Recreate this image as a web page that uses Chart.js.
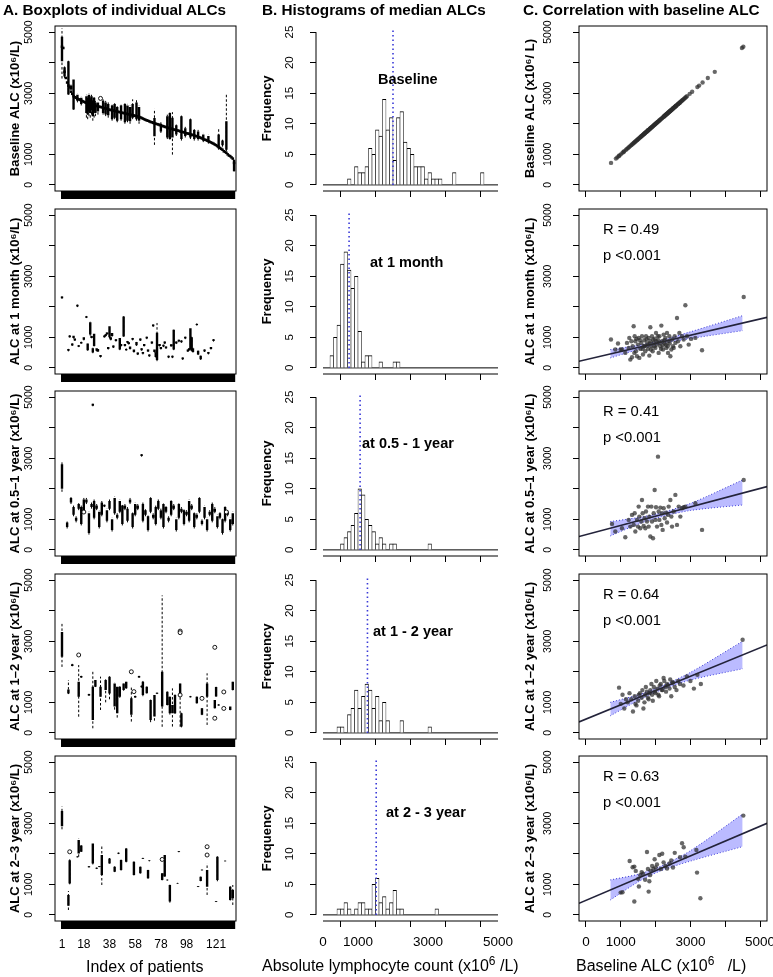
<!DOCTYPE html>
<html>
<head>
<meta charset="utf-8">
<script src="https://cdn.jsdelivr.net/npm/chart.js@4.4.1/dist/chart.umd.min.js"></script>
<style>
  body { margin: 0; background: #fff; }
  #fig { position: relative; width: 773px; height: 977px; overflow: hidden; background: #fff;
         font-family: "Liberation Sans", Arial, Helvetica, sans-serif; color: #000; }
  #fig canvas { position: absolute; }
  .lbl { position: absolute; white-space: nowrap; line-height: 1; }
  .head { font-weight: bold; font-size: 15.3px; }
  .note { font-weight: bold; font-size: 14.5px; transform: translateY(-50%); }
  .stat { font-size: 14.8px; transform: translateY(-50%); }
  .xt { font-size: 16px; transform: translateY(-50%); }
  .xt sup { font-size: 12px; line-height: 0; }
</style>
</head>
<body>
<div id="fig">
  <div class="lbl head" style="left:3px;top:2px">A. Boxplots of individual ALCs</div>
  <div class="lbl head" style="left:262px;top:2px">B. Histograms of median ALCs</div>
  <div class="lbl head" style="left:523px;top:2px">C. Correlation with baseline ALC</div>
  <div class="lbl xt" style="left:86px;top:967px">Index of patients</div>
  <div class="lbl xt" style="left:262px;top:966px">Absolute lymphocyte count (x10<sup>6</sup> /L)</div>
  <div class="lbl xt" style="left:576px;top:966px">Baseline ALC (x10<sup>6</sup>&nbsp;&nbsp; /L)</div>
</div>
<script>
// ---------- data ----------
const nPatients = 135;
const patientLabels = [1, 18, 38, 58, 78, 98, 121];
const valueTicks = [0, 1000, 2000, 3000, 4000, 5000];
const valueLabels = [0, 1000, 3000, 5000];
const freqTicks = [0, 5, 10, 15, 20, 25];
const binWidth = 100;
const histRange = [0, 5000];

const rowTitles = ['Baseline ALC (x10\u2076/L)', 'ALC at 1 month (x10\u2076/L)', 'ALC at 0.5\u20131 year (x10\u2076/L)',
                   'ALC at 1\u20132 year (x10\u2076/L)', 'ALC at 2\u20133 year (x10\u2076/L)'];
const corrTitles = ['Baseline ALC (x10\u2076/ L)', 'ALC at 1 month (x10\u2076/L)', 'ALC at 0.5\u20131 year (x10\u2076/L)',
                    'ALC at 1\u20132 year (x10\u2076/L)', 'ALC at 2\u20133 year (x10\u2076/L)'];
const histNotes = ['Baseline', 'at 1 month', 'at 0.5 - 1 year', 'at 1 - 2 year', 'at 2 - 3 year'];

// baseline medians per patient, sorted high to low
const baseMedian = [4520, 4480, 3700, 3500, 3350, 3250, 3200, 3050, 2980, 2900,
  2870, 2850, 2820, 2800, 2780, 2760, 2740, 2720, 2700, 2690,
  2680, 2660, 2650, 2640, 2620, 2600, 2590, 2580, 2570, 2560,
  2550, 2540, 2520, 2510, 2500, 2490, 2470, 2460, 2450, 2440,
  2430, 2420, 2410, 2400, 2390, 2380, 2370, 2360, 2350, 2340,
  2330, 2320, 2310, 2300, 2290, 2280, 2270, 2260, 2250, 2240,
  2230, 2210, 2190, 2170, 2150, 2130, 2110, 2100, 2080, 2060,
  2050, 2030, 2020, 2000, 1990, 1980, 1960, 1950, 1930, 1920,
  1900, 1890, 1880, 1860, 1850, 1840, 1830, 1810, 1800, 1790,
  1780, 1770, 1750, 1740, 1730, 1720, 1700, 1690, 1680, 1670,
  1660, 1640, 1630, 1620, 1600, 1590, 1570, 1560, 1540, 1520,
  1500, 1480, 1470, 1450, 1430, 1410, 1390, 1370, 1350, 1320,
  1300, 1270, 1240, 1210, 1180, 1150, 1100, 1080, 1050, 1000,
  960, 940, 900, 860, 720];

// boxplots: [patient, lower whisker, q1, q3, upper whisker]
const baseBoxes = [[1, 3480, 4050, 4850, 5120], [3, 3500, 3550, 3850, 3900], [6, 2950, 2960, 4050, 4080],
  [8, 3100, 3120, 3250, 3280], [10, 2460, 2470, 3450, 3460], [13, 2700, 2750, 2950, 3000],
  [16, 2600, 2650, 2850, 2900], [20, 2200, 2350, 2900, 2950], [21, 2150, 2300, 2850, 2900],
  [22, 2250, 2400, 2950, 3000], [23, 2200, 2350, 2800, 2850], [24, 2300, 2450, 2900, 2950],
  [25, 2100, 2250, 2750, 2800], [26, 2200, 2400, 2850, 2900], [27, 2250, 2350, 2700, 2750],
  [29, 2300, 2400, 2700, 2750], [33, 2300, 2350, 2750, 2800], [35, 2250, 2300, 2700, 2750],
  [37, 2200, 2280, 2650, 2700], [40, 2100, 2150, 2600, 2650], [42, 2150, 2200, 2650, 2700],
  [44, 2050, 2100, 2550, 2600], [47, 2100, 2150, 2600, 2650], [50, 2000, 2050, 2650, 2700],
  [52, 2050, 2100, 2600, 2650], [54, 2000, 2080, 2550, 2600], [56, 2150, 2200, 2650, 2800],
  [59, 2100, 2150, 2700, 2800], [61, 2000, 2100, 2550, 2600], [73, 1310, 1590, 2190, 2490],
  [78, 1700, 1750, 2000, 2050], [83, 1500, 1550, 2250, 2300], [85, 1480, 1500, 2350, 2380],
  [87, 990, 1550, 2200, 2380], [90, 1600, 1650, 1950, 2000], [94, 1450, 1500, 2250, 2300],
  [97, 1550, 1600, 1850, 1900], [101, 1500, 1550, 2150, 2200], [104, 1450, 1500, 1800, 1850],
  [107, 1450, 1500, 1750, 1800], [111, 1400, 1450, 1650, 1700], [115, 1350, 1400, 1600, 1650],
  [123, 1150, 1200, 1650, 1860], [126, 1250, 1300, 1450, 1500], [129, 1100, 1150, 2080, 3010],
  [135, 440, 450, 820, 850]];
const baseOutliers = [[31, 2830]];

const m1Boxes = [[1, 2260, 2280, 2340, 2360], [6, 540, 560, 620, 640], [7, 990, 1000, 1060, 1070],
  [9, 720, 730, 800, 810], [10, 960, 980, 1050, 1060], [11, 880, 900, 960, 980], [13, 1990, 2010, 2070, 2090],
  [14, 680, 690, 740, 750], [16, 790, 800, 850, 860], [18, 900, 920, 1000, 1020], [20, 1630, 1640, 1690, 1700],
  [21, 560, 580, 800, 830], [23, 1050, 1090, 1490, 1510], [24, 970, 980, 1040, 1050], [25, 480, 500, 640, 660],
  [26, 700, 720, 1120, 1140], [28, 540, 560, 640, 660], [29, 520, 540, 620, 640], [31, 340, 360, 420, 440],
  [34, 990, 1000, 1060, 1070], [35, 1020, 1040, 1100, 1110], [36, 1080, 1100, 1160, 1180], [37, 600, 620, 680, 700],
  [38, 960, 1000, 1360, 1380], [39, 900, 920, 1000, 1020], [40, 1020, 1040, 1140, 1160], [41, 650, 670, 730, 750],
  [43, 860, 880, 940, 960], [46, 580, 600, 980, 1000], [47, 700, 720, 780, 800], [49, 1020, 1030, 1680, 1700],
  [50, 700, 720, 780, 800], [51, 560, 580, 620, 640], [52, 800, 820, 880, 900], [53, 760, 780, 840, 860],
  [54, 600, 620, 700, 720], [56, 900, 920, 980, 1000], [57, 500, 520, 600, 620], [59, 720, 740, 850, 870],
  [60, 420, 440, 500, 520], [62, 880, 900, 960, 980], [63, 560, 580, 640, 660], [64, 440, 460, 520, 540],
  [65, 700, 720, 780, 800], [67, 940, 960, 1020, 1040], [68, 520, 540, 600, 620], [69, 360, 380, 440, 460],
  [71, 780, 800, 860, 880], [72, 1340, 1360, 1420, 1440], [73, 500, 520, 600, 620], [74, 340, 360, 500, 520],
  [75, 220, 260, 1150, 1470], [77, 700, 720, 780, 800], [78, 600, 620, 680, 700], [80, 680, 700, 760, 780],
  [81, 780, 800, 860, 880], [82, 620, 640, 700, 720], [84, 320, 340, 400, 420], [86, 690, 710, 770, 790],
  [87, 320, 340, 400, 420], [88, 580, 600, 1250, 1270], [90, 780, 800, 860, 880], [92, 840, 860, 920, 940],
  [94, 820, 840, 900, 920], [95, 260, 280, 340, 360], [97, 940, 960, 1020, 1040], [99, 520, 540, 600, 620],
  [100, 560, 580, 640, 660], [101, 600, 620, 1300, 1320], [102, 540, 560, 1000, 1020], [103, 500, 520, 640, 660],
  [106, 1380, 1400, 1440, 1460], [107, 420, 440, 560, 580], [109, 260, 280, 400, 420], [112, 520, 540, 600, 620],
  [115, 440, 460, 520, 540], [117, 600, 620, 680, 700], [119, 860, 880, 940, 960]];
const m1Outliers = [];

const y05Boxes = [[1, 1900, 2000, 2800, 2900], [5, 700, 750, 900, 950], [8, 1500, 1550, 1700, 1750],
  [10, 1100, 1150, 1400, 1450], [12, 900, 950, 1050, 1100], [14, 1300, 1350, 1500, 1550], [16, 800, 850, 1400, 1450],
  [18, 1200, 1250, 1650, 1700], [20, 1500, 1550, 1650, 1700], [22, 500, 550, 1200, 1250], [24, 1350, 1400, 1500, 1550],
  [25, 4700, 4720, 4780, 4800], [26, 1000, 1050, 1600, 1650], [28, 1300, 1350, 1450, 1500], [30, 700, 750, 1250, 1300],
  [32, 1100, 1150, 1550, 1600], [34, 1400, 1420, 1480, 1500], [36, 900, 950, 1300, 1350], [38, 1300, 1350, 1600, 1650],
  [40, 600, 650, 1000, 1050], [42, 1150, 1200, 1700, 1750], [44, 1000, 1050, 1150, 1200], [46, 1200, 1250, 1600, 1650],
  [48, 800, 850, 1450, 1500], [50, 1300, 1350, 1450, 1500], [52, 900, 950, 1350, 1400], [54, 1500, 1550, 1650, 1700],
  [56, 700, 750, 1200, 1250], [58, 1100, 1150, 1500, 1550], [60, 1300, 1350, 1450, 1500], [63, 3050, 3070, 3130, 3150],
  [64, 900, 950, 1500, 1550], [66, 1100, 1150, 1300, 1350], [68, 600, 650, 1100, 1150], [70, 1200, 1250, 1700, 1750],
  [72, 1000, 1050, 1150, 1200], [74, 800, 850, 1400, 1450], [76, 1300, 1350, 1600, 1650], [78, 1000, 1050, 1300, 1350],
  [80, 700, 750, 1500, 1550], [82, 1200, 1250, 1400, 1450], [84, 900, 950, 1050, 1100], [86, 1100, 1150, 1600, 1650],
  [88, 1300, 1350, 1450, 1500], [90, 600, 650, 1000, 1050], [92, 1000, 1050, 1500, 1550], [94, 1200, 1250, 1350, 1400],
  [96, 800, 850, 1300, 1350], [98, 1100, 1150, 1250, 1300], [100, 900, 950, 1600, 1650], [102, 1300, 1350, 1450, 1500],
  [104, 700, 750, 1200, 1250], [106, 1000, 1050, 1150, 1200], [108, 1200, 1250, 1700, 1750], [110, 800, 850, 950, 1000],
  [112, 1000, 1050, 1400, 1450], [114, 600, 650, 1000, 1050], [116, 1100, 1150, 1250, 1300], [118, 900, 950, 1500, 1550],
  [120, 1200, 1250, 1350, 1400], [122, 700, 750, 1100, 1150], [124, 1000, 1050, 1200, 1250], [126, 500, 550, 1000, 1050],
  [128, 900, 950, 1400, 1450], [130, 1100, 1150, 1250, 1300], [132, 600, 650, 1000, 1050], [134, 800, 850, 1200, 1250]];
const y05Outliers = [[18, 1240], [129, 1240]];

const y12Boxes = [[1, 2160, 2490, 3300, 3600], [6, 1270, 1290, 1420, 1730], [9, 2180, 2190, 2250, 2260],
  [14, 530, 1185, 1670, 2220], [16, 1800, 1810, 1860, 1870], [22, 1210, 1220, 1270, 1280], [25, 150, 420, 1510, 2050],
  [27, 1500, 1510, 1730, 1740], [31, 750, 1185, 1510, 1840], [35, 1000, 1400, 1730, 1760], [38, 1100, 1290, 1840, 1860],
  [42, 760, 860, 1620, 1650], [44, 500, 640, 1510, 1530], [46, 1150, 1180, 1510, 1560], [49, 1380, 1400, 1620, 1640],
  [51, 1440, 1460, 1670, 1690], [55, 370, 590, 1130, 1510], [58, 1150, 1160, 1210, 1220], [61, 1800, 1810, 1860, 1870],
  [63, 1480, 1490, 1540, 1550], [64, 1200, 1239, 1674, 1700], [67, 1290, 1300, 1510, 1530], [70, 350, 424, 1076, 1100],
  [73, 400, 533, 1240, 1260], [75, 1270, 1280, 1310, 1320], [79, 200, 860, 2000, 4500], [83, 900, 913, 1348, 1360],
  [85, 600, 641, 1185, 1200], [87, 207, 641, 913, 1457], [89, 620, 641, 1240, 1260], [93, 200, 1185, 1620, 1650],
  [94, 180, 207, 641, 660], [101, 1160, 1170, 1200, 1210], [106, 960, 970, 1185, 1200], [110, 580, 590, 805, 820],
  [114, 260, 1185, 1620, 1950], [120, 800, 805, 1076, 1090], [121, 1185, 1190, 1500, 1510], [123, 890, 900, 930, 940],
  [132, 740, 750, 860, 870], [134, 1390, 1402, 1674, 1690]];
const y12Outliers = [[14, 2550], [55, 2000], [57, 1350], [93, 3330], [93, 3280], [93, 1240], [110, 1130],
  [120, 480], [120, 2800], [127, 1340], [127, 800]];

const y23Boxes = [[1, 2800, 2900, 3400, 3550], [6, 160, 300, 650, 780], [7, 1000, 1030, 1790, 1850],
  [13, 1880, 1890, 1910, 1920], [14, 1900, 2010, 2450, 2500], [16, 2060, 2070, 2270, 2280], [22, 1550, 1560, 1590, 1600],
  [25, 1650, 1685, 2337, 2350], [28, 1500, 1510, 1540, 1550], [30, 1560, 1570, 1590, 1600], [32, 978, 1304, 1957, 2283],
  [38, 1680, 1685, 1848, 1860], [42, 1400, 1413, 1576, 1590], [45, 1990, 2000, 2030, 2040], [47, 1450, 1467, 1793, 1810],
  [51, 1720, 1739, 2174, 2190], [57, 1290, 1304, 1739, 1750], [62, 1350, 1359, 1576, 1590], [64, 1830, 1840, 1860, 1870],
  [68, 1180, 1196, 1467, 1480], [69, 1750, 1760, 1780, 1790], [79, 1130, 1141, 1359, 1370], [81, 1250, 1260, 1960, 1980],
  [83, 1120, 1130, 1150, 1160], [85, 400, 435, 978, 1000], [91, 1020, 1025, 1045, 1050], [92, 2050, 2060, 2080, 2090],
  [107, 910, 915, 935, 940], [109, 1100, 1110, 1250, 1260], [110, 1450, 1460, 1480, 1490], [114, 652, 924, 1467, 1685],
  [121, 420, 425, 445, 450], [122, 1100, 1141, 1902, 1920], [128, 1750, 1755, 1770, 1780], [132, 470, 489, 924, 940],
  [134, 326, 543, 815, 978]];
const y23Outliers = [[7, 2065], [79, 1815], [114, 2230], [114, 1960]];

// histogram counts, bins of 100 from 0 to 5000
const histBaseline = [0,0,0,0,0,0,0,1,0,3, 2,2,3,6,5,9,8,14,9,11, 4,11,12,7,6,5,3,3,3,1, 2,1,1,1,0,0,0,2,0,0, 0,0,0,0,0,2,0,0,0,0];
const histM1 =       [0,0,2,5,7,17,19,16,13,15, 6,1,2,2,0,0,1,0,0,0, 1,1,0,0,0,0,0,0,0,0, 0,0,0,0,0,0,0,0,0,0, 0,0,0,0,0,0,0,0,0,0];
const histY05 =      [0,0,0,0,0,1,2,3,4,6, 10,9,5,4,3,1,2,1,0,1, 1,0,0,0,0,0,0,0,0,0, 1,0,0,0,0,0,0,0,0,0, 0,0,0,0,0,0,0,0,0,0];
const histY12 =      [0,0,0,0,1,1,0,3,4,7, 4,6,8,7,4,6,2,5,2,0, 0,0,2,0,0,0,0,0,0,0, 1,0,0,0,0,0,0,0,0,0, 0,0,0,0,0,0,0,0,0,0];
const histY23 =      [0,0,0,0,1,1,2,1,0,1, 2,2,1,1,5,6,2,3,1,2, 4,1,1,0,0,0,0,0,0,0, 0,0,1,0,0,0,0,0,0,0, 0,0,0,0,0,0,0,0,0,0];
const histMedians = [2000, 745, 1060, 1270, 1520];

// correlation: [baseline ALC, ALC at time point]
const corrM1 = [[718, 927], [843, 600], [920, 796], [996, 600], [1035, 600], [1130, 490], [1178, 818], [1226, 654],
  [1245, 981], [1274, 272], [1303, 872], [1322, 349], [1341, 709], [1370, 1363], [1389, 490], [1399, 1036],
  [1418, 872], [1437, 545], [1447, 948], [1466, 382], [1494, 763], [1514, 981], [1533, 327], [1552, 905],
  [1561, 621], [1590, 818], [1609, 1036], [1628, 621], [1638, 436], [1657, 709], [1676, 905], [1686, 709],
  [1705, 545], [1724, 1036], [1743, 927], [1753, 796], [1772, 730], [1782, 621], [1801, 981], [1820, 403],
  [1830, 796], [1849, 1330], [1849, 872], [1868, 600], [1878, 709], [1897, 1036], [1916, 545], [1926, 927],
  [1945, 818], [1964, 709], [1973, 948], [1993, 654], [2012, 1145], [2021, 872], [2041, 763], [2060, 1036],
  [2069, 905], [2088, 490], [2108, 1036], [2117, 818], [2137, 709], [2156, 621], [2165, 1384], [2184, 872],
  [2203, 741], [2213, 600], [2232, 1090], [2251, 905], [2261, 796], [2280, 981], [2299, 763], [2309, 654],
  [2328, 1145], [2347, 709], [2357, 490], [2376, 872], [2395, 1036], [2405, 796], [2424, 382], [2453, 600],
  [2472, 927], [2501, 709], [2520, 654], [2549, 1036], [2568, 818], [2615, 1635], [2644, 872], [2683, 1145],
  [2711, 709], [2759, 1036], [2807, 927], [2855, 2049], [2903, 1036], [2951, 763], [3018, 948], [3142, 981],
  [3334, 578], [4531, 2322]];
const corrY05 = [[747, 850], [843, 600], [1035, 709], [1130, 414], [1226, 981], [1274, 763], [1322, 1145],
  [1370, 818], [1399, 1199], [1418, 600], [1466, 981], [1494, 763], [1514, 1417], [1533, 1090], [1561, 709],
  [1590, 927], [1609, 1635], [1628, 1199], [1657, 785], [1686, 1036], [1705, 709], [1724, 1254], [1753, 927],
  [1782, 1417], [1801, 763], [1820, 1090], [1849, 436], [1878, 1417], [1897, 927], [1926, 381], [1945, 1199],
  [1973, 1962], [1993, 981], [2012, 1395], [2041, 763], [2069, 3052], [2088, 1254], [2108, 981], [2137, 1384],
  [2165, 818], [2184, 1199], [2203, 654], [2232, 1363], [2261, 1036], [2299, 1221], [2328, 894], [2357, 1145],
  [2376, 1417], [2424, 1635], [2453, 1090], [2472, 763], [2520, 1254], [2568, 1799], [2615, 818], [2664, 1417],
  [2711, 1090], [2759, 1363], [2807, 1395], [2855, 1417], [3142, 1526], [3334, 654], [4531, 2289]];
const corrY12 = [[950, 1480], [1000, 950], [1050, 1250], [1100, 800], [1150, 1100], [1200, 1000], [1250, 1300],
  [1300, 1100], [1350, 700], [1400, 1200], [1420, 950], [1450, 900], [1500, 1050], [1520, 1250], [1550, 1300],
  [1600, 1150], [1620, 1400], [1650, 800], [1680, 1000], [1700, 1250], [1720, 1500], [1750, 1350], [1780, 1150],
  [1800, 1100], [1820, 1300], [1850, 1400], [1880, 1600], [1900, 1250], [1920, 1050], [1950, 1500], [1980, 1350],
  [2000, 1300], [2020, 1700], [2050, 1450], [2080, 1250], [2100, 1200], [2120, 1550], [2150, 1600], [2180, 1400],
  [2200, 1400], [2230, 1800], [2250, 1700], [2280, 1500], [2300, 1350], [2330, 1600], [2350, 1550], [2400, 1450],
  [2420, 1750], [2450, 1200], [2480, 1650], [2500, 1650], [2550, 1500], [2600, 1400], [2650, 1700], [2700, 1600],
  [2800, 1550], [2900, 1850], [3000, 1700], [3100, 1450], [3200, 1900], [3300, 1600], [4500, 3050]];
const corrY23 = [[996, 730], [1050, 740], [1255, 1766], [1340, 1560], [1389, 436], [1389, 1580], [1430, 1440],
  [1500, 1180], [1520, 930], [1560, 1300], [1600, 1400], [1640, 1350], [1700, 1150], [1753, 2060], [1780, 1500],
  [1801, 763], [1820, 1100], [1840, 1300], [1860, 1450], [1900, 1600], [1940, 1500], [1973, 1820], [2000, 1550],
  [2040, 1650], [2108, 1962], [2150, 1500], [2190, 2000], [2230, 1720], [2280, 1600], [2330, 1520], [2400, 1680],
  [2450, 1780], [2500, 1550], [2550, 2030], [2700, 1890], [2760, 2344], [2807, 2213], [2855, 1908], [3171, 2126],
  [3190, 1384], [3286, 545], [4520, 3250]];

// fitted lines [x, y] at the plot edges, and confidence band
const fitM1 = [[-200, 216], [5200, 1655]];
const fitY05 = [[-200, 436], [5200, 2071]];
const fitY12 = [[-200, 360], [5200, 2880]];
const fitY23 = [[-200, 381], [5200, 2998]];
const bandX = [700, 1500, 2100, 3000, 4500];
const bandM1Hi = [598, 740, 880, 1180, 1710];
const bandM1Lo = [327, 600, 780, 960, 1220];
const bandY05Hi = [926, 1060, 1200, 1520, 2289];
const bandY05Lo = [458, 840, 1065, 1290, 1471];
const bandY12Hi = [1000, 1250, 1500, 1980, 3000];
const bandY12Lo = [560, 1060, 1370, 1730, 2100];
const bandY23Hi = [1145, 1330, 1570, 2100, 3300];
const bandY23Lo = [490, 1080, 1420, 1760, 2235];
const corrStats = [null, ['R = 0.49', 'p <0.001'], ['R = 0.41', 'p <0.001'], ['R = 0.64', 'p <0.001'], ['R = 0.63', 'p <0.001']];

// ---------- layout ----------
const fig = document.getElementById('fig');
const rowTop = [26, 209, 391, 574, 756];
const regionH = 165;
const colA = { left: 55, width: 181, L: 55 };
const colB = { left: 316, width: 189, L: 56 };
const colC = { left: 579, width: 188, L: 60 };
const PAD = { top: 24, right: 24, bottom: 16 };
const FONT = '"Liberation Sans", Arial, Helvetica, sans-serif';
Chart.defaults.font.family = FONT;
Chart.defaults.color = '#000';

const rFrame = {
  id: 'rFrame',
  afterDraw(chart, args, opts) {
    const { ctx, chartArea: a, scales } = chart;
    ctx.save();
    ctx.strokeStyle = '#000';
    ctx.lineWidth = 1;
    if (opts.box) ctx.strokeRect(a.left, a.top, a.right - a.left, a.bottom - a.top);
    if (opts.axes) {
      const xt = scales.x.ticks, yt = scales.y.ticks;
      ctx.beginPath();
      ctx.moveTo(a.left, scales.y.getPixelForValue(yt[0].value));
      ctx.lineTo(a.left, scales.y.getPixelForValue(yt[yt.length - 1].value));
      ctx.moveTo(scales.x.getPixelForValue(xt[0].value), a.bottom);
      ctx.lineTo(scales.x.getPixelForValue(xt[xt.length - 1].value), a.bottom);
      ctx.stroke();
    }
    ctx.restore();
  }
};

function panel(col, row, B, type, datasets, scales, frame) {
  const c = document.createElement('canvas');
  const w = col.L + col.width + PAD.right;
  const h = PAD.top + regionH + B + PAD.bottom;
  c.width = w; c.height = h;
  c.style.width = w + 'px'; c.style.height = h + 'px';
  c.style.left = (col.left - col.L) + 'px';
  c.style.top = (rowTop[row] - PAD.top) + 'px';
  fig.insertBefore(c, fig.firstChild);
  scales.x.afterFit = s => { s.height = B; };
  scales.y.afterFit = s => { s.width = col.L; };
  new Chart(c, {
    type, data: { datasets },
    options: {
      responsive: false, animation: false, devicePixelRatio: 1, events: [],
      layout: { padding: { top: PAD.top, right: PAD.right, bottom: PAD.bottom, left: 0 } },
      plugins: { legend: { display: false }, tooltip: { enabled: false }, rFrame: frame },
      scales
    },
    plugins: [rFrame]
  });
}

function yValueAxis(title, fontSize, pad, titlePad) {
  return {
    type: 'linear', min: -200, max: 5200,
    afterBuildTicks: s => { s.ticks = valueTicks.map(v => ({ value: v })); },
    border: { display: false },
    grid: { drawOnChartArea: false, tickLength: 6, color: '#000' },
    ticks: { autoSkip: false, minRotation: 90, maxRotation: 90, crossAlign: 'center', padding: pad,
             font: { size: fontSize }, callback: v => valueLabels.includes(v) ? String(v) : '' },
    title: { display: true, text: title, font: { size: 13, weight: 'bold' }, padding: { top: titlePad, bottom: 0 } }
  };
}

function xValueAxis(bottom) {
  return {
    type: 'linear', min: -200, max: 5200, offset: false,
    afterBuildTicks: s => { s.ticks = valueTicks.map(v => ({ value: v })); },
    border: { display: false },
    grid: { drawOnChartArea: false, tickLength: 6, color: '#000' },
    ticks: { autoSkip: false, maxRotation: 0, padding: 7.6, font: { size: 13.5 },
             callback: v => bottom && valueLabels.includes(v) ? String(v) : '' }
  };
}

function segments(list, a, b) {
  const out = [];
  list.forEach(r => { out.push({ x: r[0], y: r[a] }, { x: r[0], y: r[b] }, { x: r[0], y: null }); });
  return out;
}
const pts = list => list.map(r => ({ x: r[0], y: r[1] }));

// ---------- column A: boxplots ----------
const patientIdx = Array.from({ length: nPatients }, (_, i) => i + 1);
const rowBoxes = [baseBoxes, m1Boxes, y05Boxes, y12Boxes, y23Boxes];
const rowOutliers = [baseOutliers, m1Outliers, y05Outliers, y12Outliers, y23Outliers];
rowBoxes.forEach((boxes, r) => {
  const bottom = r === 4;
  const ds = [
    { data: pts(rowOutliers[r]), pointStyle: 'circle', pointRadius: 2, borderColor: '#000', borderWidth: 0.9,
      backgroundColor: '#fff', order: 0 },
    { data: segments(boxes, 2, 3), showLine: true, spanGaps: false, borderColor: '#000', borderWidth: 2.4,
      pointRadius: 0, order: 1 },
    { data: segments(boxes, 1, 4), showLine: true, spanGaps: false, borderColor: '#000', borderWidth: 1,
      borderDash: [2.5, 2], pointRadius: 0, order: 2 }
  ];
  if (r === 0) {
    ds.push({ data: baseMedian.map((v, i) => ({ x: i + 1, y: v })), pointStyle: 'rect', pointRadius: 1.8,
              backgroundColor: '#000', borderWidth: 0, order: 1 });
  }
  panel(colA, r, bottom ? 56 : 10, 'scatter', ds, {
    x: {
      type: 'linear', min: -4.45, max: 136.5,
      afterBuildTicks: s => { s.ticks = patientIdx.map(v => ({ value: v })); },
      border: { display: false },
      grid: { drawOnChartArea: false, tickLength: 8, color: '#000', lineWidth: 2.2 },
      ticks: { autoSkip: false, maxRotation: 0, padding: 8.4, font: { size: 12 },
               callback: v => bottom && patientLabels.includes(v) ? String(v) : '' }
    },
    y: yValueAxis(rowTitles[r], 10.5, 8.3, 8.1)
  }, { box: true });
});

// ---------- column B: histograms ----------
const hists = [histBaseline, histM1, histY05, histY12, histY23];
hists.forEach((counts, r) => {
  const bottom = r === 4;
  const ds = [
    { type: 'line', data: [{ x: histMedians[r], y: 0 }, { x: histMedians[r], y: 25.6 }], borderColor: '#3a3ad8',
      borderWidth: 1.6, borderDash: [1.5, 3], pointRadius: 0, order: 0 },
    { type: 'line', data: [{ x: histRange[0], y: 0 }, { x: histRange[1], y: 0 }], borderColor: '#000',
      borderWidth: 1, pointRadius: 0, order: 2 },
    { type: 'bar', data: counts.map((c, i) => ({ x: histRange[0] + (i + 0.5) * binWidth, y: c })),
      backgroundColor: '#fff', borderColor: '#000', borderWidth: { top: 1, left: 0.6, right: 0.6, bottom: 0 },
      barPercentage: 1, categoryPercentage: 1, order: 1 }
  ];
  panel(colB, r, bottom ? 56 : 10, 'bar', ds, {
    x: xValueAxis(bottom),
    y: {
      type: 'linear', min: -1, max: 26,
      afterBuildTicks: s => { s.ticks = freqTicks.map(v => ({ value: v })); },
      border: { display: false },
      grid: { drawOnChartArea: false, tickLength: 6, color: '#000' },
      ticks: { autoSkip: false, minRotation: 90, maxRotation: 90, crossAlign: 'center', padding: 13.6,
               font: { size: 11.5 } },
      title: { display: true, text: 'Frequency', font: { size: 13, weight: 'bold' }, padding: { top: 0, bottom: 0 } }
    }
  }, { axes: true });
});

// ---------- column C: correlation ----------
const corrs = [null, corrM1, corrY05, corrY12, corrY23];
const fits = [null, fitM1, fitY05, fitY12, fitY23];
const bandsHi = [null, bandM1Hi, bandY05Hi, bandY12Hi, bandY23Hi];
const bandsLo = [null, bandM1Lo, bandY05Lo, bandY12Lo, bandY23Lo];
for (let r = 0; r < 5; r++) {
  const bottom = r === 4;
  const dotStyle = { pointRadius: 2.2, backgroundColor: 'rgba(45,45,45,0.72)', borderWidth: 0 };
  let ds;
  if (r === 0) {
    ds = [{ data: baseMedian.map(v => ({ x: v, y: v })), ...dotStyle }];
  } else {
    ds = [
      { data: pts(corrs[r]), ...dotStyle, order: 0 },
      { data: pts(fits[r]), showLine: true, borderColor: '#23233a', borderWidth: 1.6, pointRadius: 0, order: 1 },
      { data: bandX.map((x, i) => ({ x, y: bandsHi[r][i] })), showLine: true, tension: 0.3, fill: '+1',
        backgroundColor: 'rgba(105,105,255,0.45)', borderColor: '#3535d0', borderWidth: 1, borderDash: [1, 2],
        pointRadius: 0, order: 2 },
      { data: bandX.map((x, i) => ({ x, y: bandsLo[r][i] })), showLine: true, tension: 0.3,
        borderColor: '#3535d0', borderWidth: 1, borderDash: [1, 2], pointRadius: 0, order: 3 }
    ];
  }
  panel(colC, r, bottom ? 56 : 10, 'scatter', ds, {
    x: xValueAxis(bottom),
    y: yValueAxis(corrTitles[r], 10.5, 13.3, 4.1)
  }, { box: true });
}

// ---------- text inside panels ----------
const notePos = [[378, 79], [370, 262], [362, 443], [373, 631], [386, 812]];
histNotes.forEach((t, r) => {
  const d = document.createElement('div');
  d.className = 'lbl note';
  d.style.left = notePos[r][0] + 'px'; d.style.top = notePos[r][1] + 'px';
  d.textContent = t;
  fig.appendChild(d);
});
corrStats.forEach((s, r) => {
  if (!s) return;
  s.forEach((t, k) => {
    const d = document.createElement('div');
    d.className = 'lbl stat';
    d.style.left = '603px';
    d.style.top = (rowTop[r] + 20 + k * 26) + 'px';
    d.textContent = t;
    fig.appendChild(d);
  });
});
</script>
</body>
</html>
